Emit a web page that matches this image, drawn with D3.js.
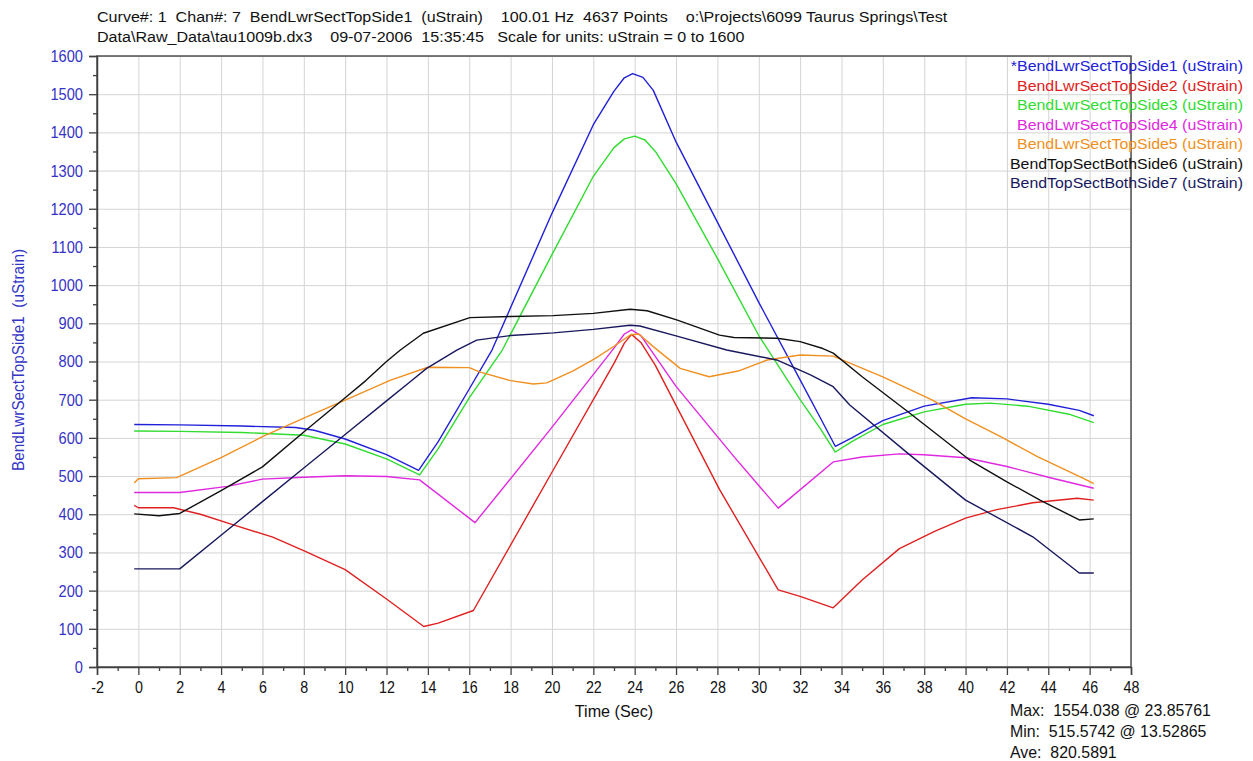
<!DOCTYPE html>
<html>
<head>
<meta charset="utf-8">
<script src="https://cdn.jsdelivr.net/npm/d3@7"></script>
<style>
body { margin: 0; background: #fff; }
svg { display: block; }
text { font-family: "Liberation Sans", Arial, sans-serif; white-space: pre; }
</style>
</head>
<body>
<svg width="1253" height="761"></svg>
<script>
const seriesNames = [
	"*BendLwrSectTopSide1 (uStrain)",
	"BendLwrSectTopSide2 (uStrain)",
	"BendLwrSectTopSide3 (uStrain)",
	"BendLwrSectTopSide4 (uStrain)",
	"BendLwrSectTopSide5 (uStrain)",
	"BendTopSectBothSide6 (uStrain)",
	"BendTopSectBothSide7 (uStrain)"
];
const seriesColors = ["#2020d8", "#e02020", "#30dc30", "#e028e0", "#f09020", "#101010", "#18185e"];

// [time (sec), uStrain]
const side1 = [[-0.2,635],[2,634],[5,631],[7.6,627],[8.5,620],[10,597],[12,556],[13.55,515],[14.5,590],[16,728],[17.1,830],[20,1188],[22,1420],[23,1508],[23.5,1543],[23.9,1554],[24.4,1544],[24.9,1510],[26,1375],[28,1165],[30,955],[32,752],[33,650],[33.7,578],[34.5,600],[36,645],[38,683],[40.3,705],[42,702],[44,688],[45.5,672],[46.2,658]];
const side2 = [[-0.2,423],[0,417],[1.7,417],[3,400],[4.6,372],[6.5,340],[8.1,302],[10,255],[12,178],[13.8,106],[14.5,115],[16.2,148],[20,510],[23,795],[23.5,848],[23.85,871],[24.3,850],[25,790],[28.1,465],[30.94,202],[32,185],[33.6,155],[35,228],[36.8,310],[38.5,355],[40,390],[41.5,412],[43.25,430],[45.4,442],[46.2,437]];
const side3 = [[-0.2,618],[2,617],[5,614],[8,607],[10,584],[12,545],[13.6,503],[14.5,572],[16,705],[17.6,830],[20,1080],[22,1285],[23,1360],[23.5,1383],[24,1390],[24.5,1380],[25,1350],[26,1266],[28,1070],[30,868],[32,700],[33,622],[33.7,563],[34.5,590],[36,635],[38,668],[40,688],[41.2,691],[43,683],[45,662],[46.2,640]];
const side4 = [[-0.2,457],[2,457],[4.3,473],[6,492],[8,497],[10,501],[12,499],[13.6,490],[16.28,378],[19.9,621],[23,835],[23.5,872],[23.85,883],[24.3,868],[26,735],[28.8,551],[30.94,416],[33.6,537],[35,550],[36.8,558],[38,556],[40,548],[42,525],[44,497],[46.2,468]];
const side5 = [[-0.2,482],[0,493],[1.85,496],[4,548],[6,603],[8,652],[10,699],[12.2,751],[14,785],[16,784],[16.5,773],[18,750],[19.1,741],[19.75,744],[21,775],[22.1,808],[23,840],[23.8,870],[24.2,872],[24.9,839],[26.2,782],[27.6,760],[29,775],[30.4,804],[32,817],[33.6,814],[36,760],[38.4,699],[40,650],[41.7,603],[43.5,550],[45.7,494],[46.2,480]];
const side6 = [[-0.2,401],[1,396],[2,402],[4,462],[6,524],[8.1,620],[10,705],[11,750],[12,800],[12.67,830],[13.78,874],[16.03,915],[18,918],[20.05,920],[22,926],[23.78,937],[24.6,933],[26.03,909],[28.1,869],[28.8,863],[30.9,861],[32,852],[33.1,834],[33.6,822],[35,760],[37.2,669],[40.2,542],[42,485],[43.6,437],[45.5,385],[46.2,388]];
const side7 = [[-0.2,257],[2,257],[4,345],[6,433],[8,521],[10,609],[12,697],[13.1,745],[13.94,782],[15.4,830],[16.36,856],[18,868],[20.07,875],[22,884],[23.77,895],[24.25,893],[26,867],[28.45,830],[30.87,804],[32.5,765],[33.6,734],[34.4,686],[37.2,560],[40,437],[43.25,341],[45.5,246],[46.2,246]];
const allSeries = [side1, side2, side3, side4, side5, side6, side7];

const xTicks = d3.range(-2, 49, 2);
const xMinor = d3.range(-1, 48, 2);
const yTicks = d3.range(0, 1601, 100);
const yMinor = d3.range(50, 1600, 100);

const headerLines = [
	"Curve#: 1  Chan#: 7  BendLwrSectTopSide1  (uStrain)    100.01 Hz  4637 Points    o:\\Projects\\6099 Taurus Springs\\Test",
	"Data\\Raw_Data\\tau1009b.dx3    09-07-2006  15:35:45   Scale for units: uStrain = 0 to 1600"
];
const statLines = ["Max:  1554.038 @ 23.85761", "Min:  515.5742 @ 13.52865", "Ave:  820.5891"];
const xTitle = "Time (Sec)";
const yTitle = "BendLwrSectTopSide1  (uStrain)";

const svg = d3.select('svg');
const width = +svg.attr('width');
const height = +svg.attr('height');

const margin = { top: 56, right: 122, bottom: 94, left: 97 };
const innerWidth = width - margin.left - margin.right;
const innerHeight = height - margin.top - margin.bottom;

// squeeze or stretch glyphs horizontally, no narrow font is installed
const squeeze = (sel, k) => sel.each(function () {
	const len = this.getComputedTextLength();
	d3.select(this).attr('textLength', len * k).attr('lengthAdjust', 'spacingAndGlyphs');
});

const xS = d3.scaleLinear().domain([-2, 48]).range([0, innerWidth]);
const yS = d3.scaleLinear().domain([0, 1600]).range([innerHeight, 0]);

const g = svg.append('g').attr('transform', `translate(${margin.left},${margin.top})`);

// grid
g.append('g')
	.attr('transform', `translate(0,${innerHeight})`)
	.call(d3.axisBottom(xS).tickValues(xTicks).tickSize(-innerHeight).tickFormat(''))
	.call(a => a.select('.domain').remove())
	.selectAll('line').attr('stroke', '#d4d4d4');
g.append('g')
	.call(d3.axisLeft(yS).tickValues(yTicks).tickSize(-innerWidth).tickFormat(''))
	.call(a => a.select('.domain').remove())
	.selectAll('line').attr('stroke', '#d4d4d4');

// frame
g.append('rect')
	.attr('width', innerWidth)
	.attr('height', innerHeight)
	.attr('fill', 'none')
	.attr('stroke', '#505050')
	.attr('stroke-width', 1.5);

// curves
const line = d3.line().x(d => xS(d[0])).y(d => yS(d[1]));
g.selectAll('path.curve')
	.data(allSeries)
	.enter()
	.append('path')
	.attr('class', 'curve')
	.attr('d', line)
	.attr('fill', 'none')
	.attr('stroke', (d, i) => seriesColors[i])
	.attr('stroke-width', 1.4)
	.attr('stroke-linejoin', 'round');

// axes
const xag = g.append('g')
	.attr('transform', `translate(0,${innerHeight})`)
	.call(d3.axisBottom(xS).tickValues(xTicks).tickSize(8).tickPadding(6).tickFormat(d => String(d)));
xag.select('.domain').attr('stroke', '#404040').attr('stroke-width', 1.5);
xag.selectAll('line').attr('stroke', '#404040').attr('stroke-width', 1.3);
xag.selectAll('text').attr('font-size', 17).attr('font-family', null).attr('fill', '#111').call(squeeze, 0.84);
g.append('g')
	.attr('transform', `translate(0,${innerHeight})`)
	.call(d3.axisBottom(xS).tickValues(xMinor).tickSize(4).tickFormat(''))
	.call(a => a.select('.domain').remove())
	.selectAll('line').attr('stroke', '#404040').attr('stroke-width', 1.3);

const yag = g.append('g')
	.call(d3.axisLeft(yS).tickValues(yTicks).tickSize(8).tickPadding(6).tickFormat(d => String(d)));
yag.select('.domain').attr('stroke', '#404040').attr('stroke-width', 1.5);
yag.selectAll('line').attr('stroke', '#404040').attr('stroke-width', 1.3);
yag.selectAll('text').attr('font-size', 17).attr('font-family', null).attr('fill', '#3434c4').call(squeeze, 0.86);
g.append('g')
	.call(d3.axisLeft(yS).tickValues(yMinor).tickSize(4).tickFormat(''))
	.call(a => a.select('.domain').remove())
	.selectAll('line').attr('stroke', '#404040').attr('stroke-width', 1.3);
svg.selectAll('.tick text').attr('font-family', null);

// titles
svg.selectAll('text.header')
	.data(headerLines)
	.enter()
	.append('text')
	.attr('class', 'header')
	.attr('x', 97)
	.attr('y', (d, i) => 22 + i * 19.5)
	.attr('font-size', 14)
	.attr('fill', '#111')
	.text(d => d)
	.call(squeeze, 1.148);

svg.append('text')
	.attr('x', margin.left + xS(23))
	.attr('y', 717)
	.attr('text-anchor', 'middle')
	.attr('font-size', 17)
	.attr('fill', '#111')
	.text(xTitle)
	.call(squeeze, 0.95);

svg.append('text')
	.attr('transform', 'rotate(-90)')
	.attr('x', -360)
	.attr('y', 24)
	.attr('text-anchor', 'middle')
	.attr('font-size', 17)
	.attr('fill', '#3434c4')
	.text(yTitle)
	.call(squeeze, 0.9);

// legend
svg.selectAll('text.legend')
	.data(seriesNames)
	.enter()
	.append('text')
	.attr('class', 'legend')
	.attr('x', 1243)
	.attr('y', (d, i) => 71 + i * 19.5)
	.attr('text-anchor', 'end')
	.attr('font-size', 14.5)
	.attr('fill', (d, i) => seriesColors[i])
	.text(d => d)
	.call(squeeze, 1.095);

// stats
svg.selectAll('text.stat')
	.data(statLines)
	.enter()
	.append('text')
	.attr('class', 'stat')
	.attr('x', 1010)
	.attr('y', (d, i) => 716 + i * 21)
	.attr('font-size', 17)
	.attr('fill', '#111')
	.text(d => d)
	.call(squeeze, 0.935);
</script>
</body>
</html>
